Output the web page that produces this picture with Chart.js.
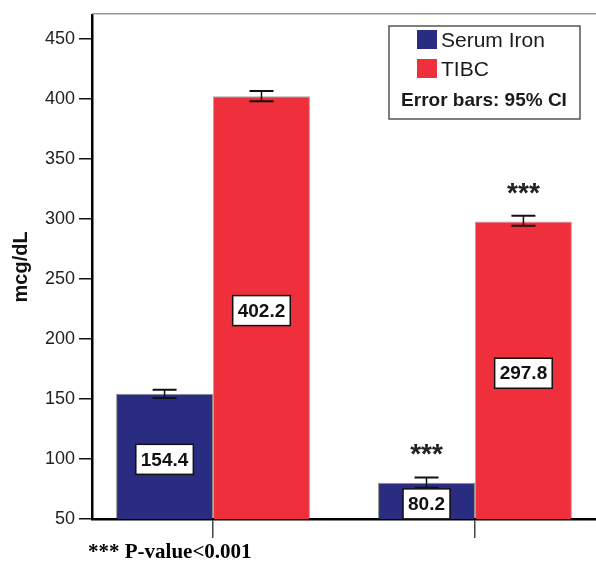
<!DOCTYPE html>
<html>
<head>
<meta charset="utf-8">
<script src="https://cdn.jsdelivr.net/npm/chart.js@4"></script>
<style>
  html, body { margin: 0; padding: 0; background: #fff; overflow: hidden; }
</style>
</head>
<body>
<canvas id="iron-chart" width="596" height="563"></canvas>
<script>
// Data
const categories = ['Group 1', 'Group 2'];
const seriesNames = ['Serum Iron', 'TIBC'];
const serumIron = [154.4, 80.2];
const tibc = [402.2, 297.8];
// 95% CI ends
const serumLow = [150.8, 76.0];
const serumHigh = [157.6, 84.6];
const tibcLow = [398.0, 294.3];
const tibcHigh = [406.6, 302.6];
// significance marks per bar
const serumStars = ['', '***'];
const tibcStars = ['', '***'];
const yTicks = [50, 100, 150, 200, 250, 300, 350, 400, 450];
const footnote = '*** P-value<0.001';
const ciNote = 'Error bars: 95% CI';

const NAVY = '#2a2c82';
const RED = '#ef2f3b';
const SANS = '"Liberation Sans", Arial, sans-serif';

const lows = [serumLow, tibcLow];
const highs = [serumHigh, tibcHigh];
const starMarks = [serumStars, tibcStars];

// Hàm vẽ error bars, nhãn giá trị và dấu sao
const barExtras = {
  id: 'barExtras',
  afterDatasetsDraw(chart) {
    const ctx = chart.ctx;
    const y = chart.scales.y;
    const bottom = chart.chartArea.bottom;
    chart.data.datasets.forEach((ds, di) => {
      const meta = chart.getDatasetMeta(di);
      meta.data.forEach((bar, i) => {
        const x = bar.x;
        const yHi = y.getPixelForValue(highs[di][i]);
        const yLo = y.getPixelForValue(lows[di][i]);
        ctx.save();
        ctx.strokeStyle = '#111';
        ctx.lineWidth = 1.5;
        ctx.beginPath();
        ctx.moveTo(x, yHi); ctx.lineTo(x, yLo);
        ctx.stroke();
        ctx.lineWidth = 2;
        ctx.beginPath();
        ctx.moveTo(x - 12, yHi); ctx.lineTo(x + 12, yHi);
        ctx.moveTo(x - 12, yLo); ctx.lineTo(x + 12, yLo);
        ctx.stroke();

        // value label box
        const txt = ds.data[i].y.toFixed(1);
        ctx.font = 'bold 19px ' + SANS;
        const w = ctx.measureText(txt).width + 10;
        const h = 30;
        const base = Math.min(bar.base, bottom);
        let cy = (bar.y + base) / 2 + 3;
        cy = Math.min(cy, bottom - h / 2);
        ctx.fillStyle = '#fff';
        ctx.fillRect(x - w / 2, cy - h / 2, w, h);
        ctx.strokeStyle = '#111';
        ctx.lineWidth = 1.5;
        ctx.strokeRect(x - w / 2, cy - h / 2, w, h);
        ctx.fillStyle = '#111';
        ctx.textAlign = 'center';
        ctx.textBaseline = 'middle';
        ctx.fillText(txt, x, cy + 1);

        // stars
        const s = starMarks[di][i];
        if (s) {
          ctx.font = 'bold 28px ' + SANS;
          ctx.textBaseline = 'alphabetic';
          ctx.fillStyle = '#222';
          ctx.fillText(s, x, yHi - 14);
        }
        ctx.restore();
      });
    });
  },
  afterDraw(chart) {
    const ctx = chart.ctx;
    const area = chart.chartArea;
    ctx.save();
    // top frame line
    ctx.strokeStyle = '#999';
    ctx.lineWidth = 1.5;
    ctx.beginPath();
    ctx.moveTo(area.left, area.top - 1);
    ctx.lineTo(area.right, area.top - 1);
    ctx.stroke();

    // legend box
    ctx.fillStyle = '#fff';
    ctx.fillRect(389, 26, 191, 93);
    ctx.strokeStyle = '#555';
    ctx.lineWidth = 1.5;
    ctx.strokeRect(389, 26, 191, 93);
    chart.data.datasets.forEach((ds, di) => {
      const top = 30 + di * 29;
      ctx.fillStyle = ds.backgroundColor;
      ctx.fillRect(417, top, 20, 19);
      ctx.fillStyle = '#1a1a1a';
      ctx.font = '21px ' + SANS;
      ctx.textAlign = 'left';
      ctx.textBaseline = 'middle';
      ctx.fillText(ds.label, 441, top + 11);
    });
    ctx.font = 'bold 19px ' + SANS;
    ctx.textAlign = 'center';
    ctx.fillText(ciNote, 484, 101);

    // footnote
    ctx.font = 'bold 21px "Liberation Serif", "Times New Roman", serif';
    ctx.textAlign = 'left';
    ctx.textBaseline = 'alphabetic';
    ctx.fillStyle = '#000';
    ctx.fillText(footnote, 88, 558);
    ctx.restore();
  }
};

const ctx = document.getElementById('iron-chart').getContext('2d');
const myChart = new Chart(ctx, {
  type: 'bar',
  data: {
    datasets: [
      {
        label: seriesNames[0],
        data: serumIron.map((v, i) => ({ x: i + 1, y: v })),
        backgroundColor: NAVY,
        borderColor: 'rgba(0,0,0,0.45)',
        borderWidth: 1,
      },
      {
        label: seriesNames[1],
        data: tibc.map((v, i) => ({ x: i + 1, y: v })),
        backgroundColor: RED,
        borderColor: 'rgba(0,0,0,0.35)',
        borderWidth: 1,
      },
    ],
  },
  options: {
    responsive: false,
    animation: false,
    categoryPercentage: 0.74,
    barPercentage: 1.0,
    layout: { padding: { top: 10, right: 0, bottom: 25, left: 0 } },
    plugins: {
      legend: { display: false },
      tooltip: { enabled: false },
    },
    scales: {
      x: {
        type: 'linear',
        offset: false,
        min: 0.538,
        max: 2.462,
        ticks: { display: false, stepSize: 1, includeBounds: false },
        afterBuildTicks: (scale) => {
          scale.ticks = categories.map((_, i) => ({ value: i + 1 }));
        },
        grid: {
          display: true,
          offset: false,
          drawOnChartArea: false,
          drawTicks: true,
          tickLength: 19,
          color: '#444',
          lineWidth: 1.5,
        },
        border: { display: true, color: '#000', width: 2.5 },
      },
      y: {
        min: 50,
        max: 470,
        afterBuildTicks: (scale) => {
          scale.ticks = yTicks.map((v) => ({ value: v }));
        },
        afterFit: (scale) => { scale.width = 92; },
        ticks: {
          font: { family: SANS, size: 18 },
          color: '#222',
          padding: 4,
        },
        grid: {
          display: true,
          drawOnChartArea: false,
          drawTicks: true,
          tickLength: 13,
          color: '#111',
          lineWidth: 1.5,
        },
        border: { display: true, color: '#000', width: 2.5 },
        title: {
          display: true,
          text: 'mcg/dL',
          font: { family: SANS, size: 20, weight: 'bold' },
          color: '#111',
          padding: { top: 9, bottom: 0 },
        },
      },
    },
  },
  plugins: [barExtras],
});
</script>
</body>
</html>
